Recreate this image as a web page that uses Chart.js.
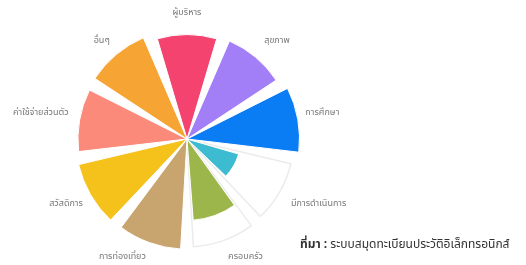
<!DOCTYPE html>
<html>
<head>
<meta charset="utf-8">
<script src="https://cdn.jsdelivr.net/npm/chart.js@4.4.1/dist/chart.umd.min.js"></script>
<style>
    body {
        margin: 0;
        background: #ffffff;
        font-family: "Noto Sans Thai", "Noto Sans", sans-serif;
        overflow: hidden;
    }

    .wrap {
        position: relative;
        width: 526px;
        height: 265px;
        overflow: hidden;
    }

    .chart-box {
        position: absolute;
        left: 0;
        top: 4px;
        width: 370px;
        height: 263px;
    }

    .source {
        position: absolute;
        left: 300px;
        top: 235px;
        font-size: 12px;
        color: #333333;
        white-space: nowrap;
    }
</style>
</head>
<body>

<div class="wrap">
    <div class="chart-box">
        <canvas id="polarChart"></canvas>
    </div>
    <div class="source"><b>ที่มา :</b> ระบบสมุดทะเบียนประวัติอิเล็กทรอนิกส์</div>
</div>

<script>
const categories = [
    "ผู้บริหาร",
    "สุขภาพ",
    "การศึกษา",
    "มีการดำเนินการ",
    "ครอบครัว",
    "การท่องเที่ยว",
    "สวัสดิการ",
    "ค่าใช้จ่ายส่วนตัว",
    "อื่นๆ"
];

// coloured wedges
const values = [82, 84, 89, 38, 62, 87, 88, 86, 87];

// pale outlined wedges behind (only two show)
const outlineValues = [0, 0, 0, 84, 85, 0, 0, 0, 0];

const chartColors = [
    "#f3436e",
    "#a27ff7",
    "#0a7df5",
    "#3dbbd0",
    "#9db64c",
    "#c8a46f",
    "#f4c21b",
    "#fb8a7b",
    "#f6a433"
];

const outlineFill = outlineValues.map(v => v > 0 ? "#ffffff" : "rgba(0,0,0,0)");
const outlineBorder = outlineValues.map(v => v > 0 ? "#ebebeb" : "rgba(0,0,0,0)");

document.addEventListener("DOMContentLoaded", () => {

    const ctx =
        document
            .getElementById("polarChart")
            .getContext("2d");

    new Chart(ctx, {

        type: "polarArea",

        data: {

            labels: categories,

            datasets: [
                {
                    label: "values",
                    data: values,
                    backgroundColor: chartColors,
                    borderColor: "#ffffff",
                    borderWidth: 1,
                    spacing: 20
                },
                {
                    label: "outline",
                    data: outlineValues,
                    backgroundColor: outlineFill,
                    borderColor: outlineBorder,
                    borderWidth: 1.5,
                    spacing: 20
                }
            ]
        },

        options: {

            responsive: true,
            maintainAspectRatio: false,
            animation: false,

            plugins: {
                legend: {
                    display: false
                },
                tooltip: {
                    enabled: false
                }
            },

            scales: {
                r: {
                    startAngle: -20,
                    min: 0,
                    max: 100,
                    ticks: {
                        display: false
                    },
                    grid: {
                        display: false
                    },
                    angleLines: {
                        display: false
                    },
                    pointLabels: {
                        display: true,
                        centerPointLabels: true,
                        color: "#777777",
                        padding: 5,
                        font: {
                            size: 9,
                            family: "'Noto Sans Thai', 'Noto Sans', sans-serif"
                        }
                    }
                }
            }
        }
    });
});
</script>
</body>
</html>
